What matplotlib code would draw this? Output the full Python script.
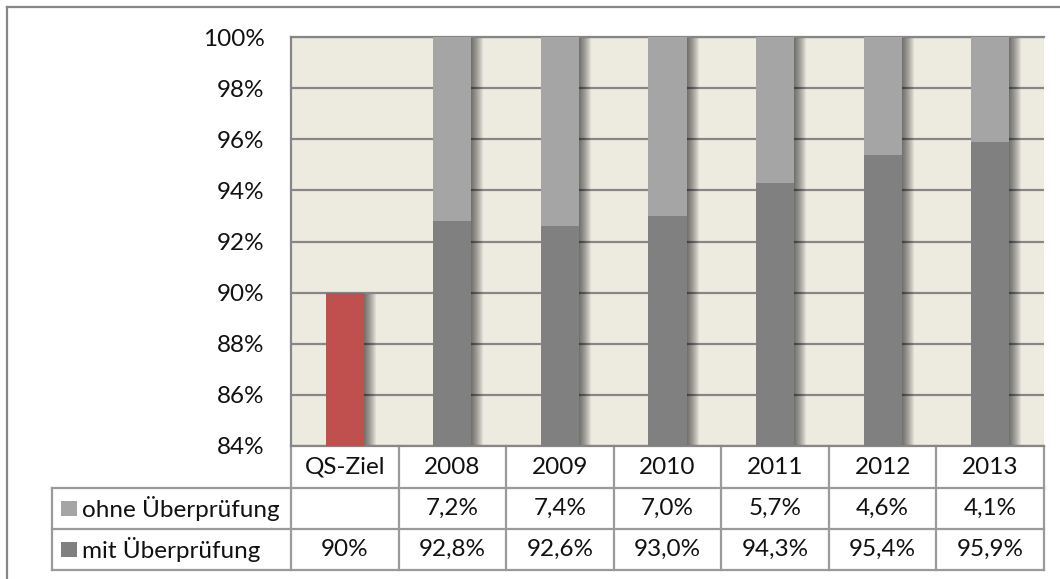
import matplotlib.pyplot as plt
import matplotlib.transforms as mtransforms
from matplotlib.lines import Line2D
from matplotlib.patches import Rectangle

plt.rcParams['font.family'] = ['Lato', 'DejaVu Sans']

categories = ['QS-Ziel', '2008', '2009', '2010', '2011', '2012', '2013']
mit_pruefung = [90.0, 92.8, 92.6, 93.0, 94.3, 95.4, 95.9]
ohne_pruefung = [None, 7.2, 7.4, 7.0, 5.7, 4.6, 4.1]
mit_labels = ['90%', '92,8%', '92,6%', '93,0%', '94,3%', '95,4%', '95,9%']
ohne_labels = ['', '7,2%', '7,4%', '7,0%', '5,7%', '4,6%', '4,1%']
row_names = ['ohne Überprüfung', 'mit Überprüfung']
yticks = [84, 86, 88, 90, 92, 94, 96, 98, 100]

W, H = 1060, 579
fig = plt.figure(figsize=(W / 100, H / 100), dpi=100)

# outer chart frame (cut off on right and bottom)
frame_col = '#868686'
fig.add_artist(Line2D([7 / W, 7 / W], [1 - 7 / H, 0], color=frame_col, lw=1.6))
fig.add_artist(Line2D([7 / W, 1], [1 - 7 / H, 1 - 7 / H], color=frame_col, lw=1.6))

left, right, top, bottom = 291, 1044, 37, 446
ax = fig.add_axes([left / W, 1 - bottom / H, (right - left) / W, (bottom - top) / H])
ax.set_facecolor('#EDEAE0')

x = list(range(len(categories)))
bw = 0.355
px = 1.0 / ((right - left) / len(categories))  # data units per pixel

mit_colors = ['#C0504D'] + ['#808080'] * (len(categories) - 1)
ohne_vals = [v if v is not None else 0 for v in ohne_pruefung]

# soft shadow to the right of the columns
tops = [m + o for m, o in zip(mit_pruefung, ohne_vals)]
for k in range(1, 13):
    ax.bar([xi + k * px for xi in x], [t - 0.05 for t in tops], bw,
           color='black', alpha=0.055, lw=0, zorder=2)

ax.bar(x, mit_pruefung, bw, color=mit_colors, lw=0, zorder=3)
ax.bar(x, ohne_vals, bw, bottom=mit_pruefung, color='#A5A5A5', lw=0, zorder=3)

ax.set_xlim(-0.5, len(categories) - 0.5)
ax.set_ylim(84, 100)
ax.set_yticks(yticks)
ax.set_yticklabels([f'{v}%' for v in yticks])
ax.yaxis.grid(True, color='#868686', lw=1.6, zorder=1)
ax.set_axisbelow(True)
ax.set_xticks([])
ax.tick_params(axis='y', length=0, pad=19, labelsize=17.5, labelcolor='#111111')
for s in ['left', 'top', 'bottom']:
    ax.spines[s].set_color('#868686')
    ax.spines[s].set_linewidth(1.6)
ax.spines['right'].set_visible(False)

# data table below the plot
trans = mtransforms.blended_transform_factory(ax.transData, ax.transAxes)
plot_h = bottom - top
y0 = 0
y1 = -(488 - bottom) / plot_h
y2 = -(529 - bottom) / plot_h
y3 = -(570 - bottom) / plot_h
xl = -0.5 - (left - 52) * px
xr = len(categories) - 0.5
tcol = '#9A9A9A'


def tline(xs, ys):
    ax.add_line(Line2D(xs, ys, transform=trans, color=tcol, lw=1.6, clip_on=False))


for b in [i - 0.5 for i in range(len(categories) + 1)]:
    tline([b, b], [y0, y3])
tline([xl, xl], [y1, y3])
for yy in [y1, y2, y3]:
    tline([xl, xr], [yy, yy])

fs = 17.5
for i, c in enumerate(categories):
    ax.text(i, (y0 + y1) / 2, c, transform=trans, ha='center', va='center',
            fontsize=fs, color='#111111')
    ax.text(i, (y1 + y2) / 2, ohne_labels[i], transform=trans, ha='center',
            va='center', fontsize=fs, color='#111111')
    ax.text(i, (y2 + y3) / 2, mit_labels[i], transform=trans, ha='center',
            va='center', fontsize=fs, color='#111111')

key_cols = ['#A5A5A5', '#808080']
for r, (name, kc) in enumerate(zip(row_names, key_cols)):
    yc = [(y1 + y2) / 2, (y2 + y3) / 2][r]
    ks = 15 / plot_h
    ax.add_patch(Rectangle((xl + 9 * px, yc - ks / 2), 16 * px, ks, transform=trans,
                           color=kc, lw=0, clip_on=False))
    ax.text(xl + 30 * px, yc, name, transform=trans, ha='left', va='center',
            fontsize=fs, color='#111111')

fig.savefig('out.png', dpi=100)
